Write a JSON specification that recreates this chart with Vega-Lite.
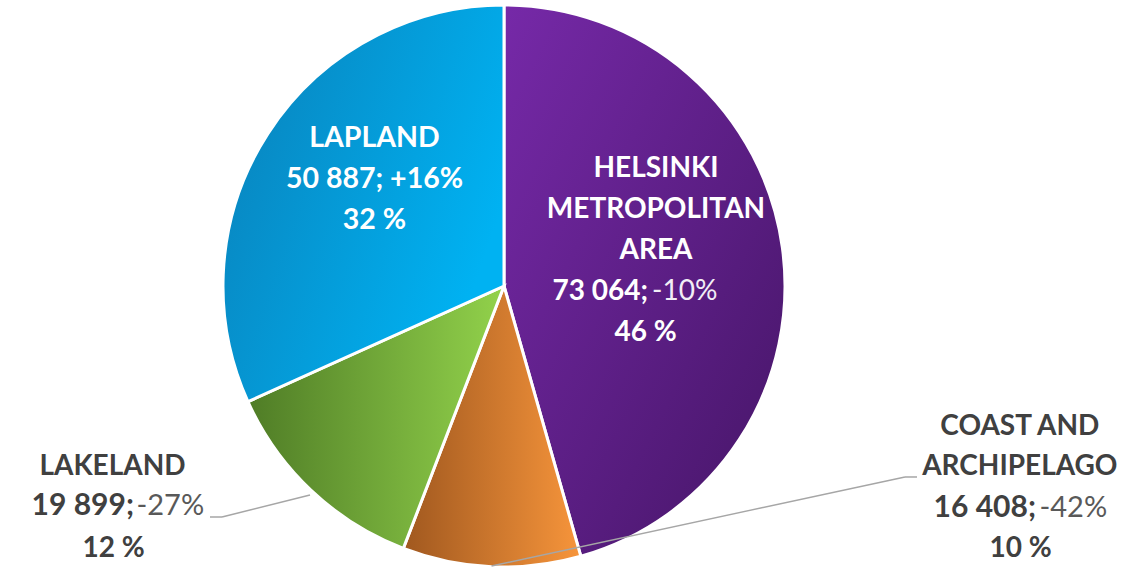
{
  "$schema": "https://vega.github.io/schema/vega-lite/v6.json",
  "width": 1008,
  "height": 562,
  "autosize": "none",
  "padding": {"left": 0, "top": 5, "right": 137, "bottom": 0},
  "background": "white",
  "config": {"view": {"stroke": null}},
  "data": {
    "values": [
      {"idx": 1, "region": "Helsinki Metropolitan Area", "visitors": 73064, "nameLabel": "HELSINKI\nMETROPOLITAN\nAREA", "valueLabel": "73 064;", "change": "-10%", "share": "46 %"},
      {"idx": 2, "region": "Coast and Archipelago", "visitors": 16408, "nameLabel": "COAST AND\nARCHIPELAGO", "valueLabel": "16 408;", "change": "-42%", "share": "10 %"},
      {"idx": 3, "region": "Lakeland", "visitors": 19899, "nameLabel": "LAKELAND", "valueLabel": "19 899;", "change": "-27%", "share": "12 %"},
      {"idx": 4, "region": "Lapland", "visitors": 50887, "nameLabel": "LAPLAND\n50 887; +16%\n32 %", "valueLabel": "50 887;", "change": "+16%", "share": "32 %"}
    ]
  },
  "layer": [
    {
      "mark": {"type": "arc", "outerRadius": 281, "stroke": "white", "strokeWidth": 3},
      "encoding": {
        "theta": {"field": "visitors", "type": "quantitative", "stack": true},
        "order": {"field": "idx", "type": "quantitative"},
        "fill": {
          "condition": [
            {"test": "datum.idx === 1", "value": {"gradient": "linear", "x1": 0, "y1": 0, "x2": 1, "y2": 1, "stops": [{"offset": 0, "color": "#7629a8"}, {"offset": 1, "color": "#451566"}]}},
            {"test": "datum.idx === 2", "value": {"gradient": "linear", "x1": 0, "y1": 0, "x2": 1, "y2": 0, "stops": [{"offset": 0, "color": "#a0581f"}, {"offset": 1, "color": "#f7953b"}]}},
            {"test": "datum.idx === 3", "value": {"gradient": "linear", "x1": 0, "y1": 0, "x2": 1, "y2": 0, "stops": [{"offset": 0, "color": "#4f7c26"}, {"offset": 1, "color": "#92d24b"}]}}
          ],
          "value": {"gradient": "linear", "x1": 0, "y1": 0, "x2": 1, "y2": 0.5, "stops": [{"offset": 0, "color": "#0a7fb8"}, {"offset": 1, "color": "#00b2f2"}]}
        }
      }
    },
    {
      "mark": {"type": "text", "radius": 156, "dx": -2.5, "dy": -87.5, "align": "center", "baseline": "alphabetic", "font": "Lato", "fontWeight": "bold", "fontSize": 28, "lineBreak": "\n", "lineHeight": 41, "color": "white"},
      "encoding": {
        "theta": {"field": "visitors", "type": "quantitative", "stack": true},
        "order": {"field": "idx", "type": "quantitative"},
        "text": {"condition": {"test": "datum.idx === 1", "field": "nameLabel", "type": "nominal"}, "value": ""}
      }
    },
    {
      "mark": {"type": "text", "radius": 156, "dx": -10.5, "dy": 35.5, "align": "right", "baseline": "alphabetic", "font": "Lato", "fontWeight": "bold", "fontSize": 28, "color": "white"},
      "encoding": {
        "theta": {"field": "visitors", "type": "quantitative", "stack": true},
        "order": {"field": "idx", "type": "quantitative"},
        "text": {"condition": {"test": "datum.idx === 1", "field": "valueLabel", "type": "nominal"}, "value": ""}
      }
    },
    {
      "mark": {"type": "text", "radius": 156, "dx": -6.5, "dy": 35.5, "align": "left", "baseline": "alphabetic", "font": "Lato", "fontWeight": "normal", "fontSize": 28, "color": "#f2eef6"},
      "encoding": {
        "theta": {"field": "visitors", "type": "quantitative", "stack": true},
        "order": {"field": "idx", "type": "quantitative"},
        "text": {"condition": {"test": "datum.idx === 1", "field": "change", "type": "nominal"}, "value": ""}
      }
    },
    {
      "mark": {"type": "text", "radius": 156, "dx": -13, "dy": 76.5, "align": "center", "baseline": "alphabetic", "font": "Lato", "fontWeight": "bold", "fontSize": 28, "color": "white"},
      "encoding": {
        "theta": {"field": "visitors", "type": "quantitative", "stack": true},
        "order": {"field": "idx", "type": "quantitative"},
        "text": {"condition": {"test": "datum.idx === 1", "field": "share", "type": "nominal"}, "value": ""}
      }
    },
    {
      "mark": {"type": "text", "radius": 160, "dx": 4.9, "dy": -52, "align": "center", "baseline": "alphabetic", "font": "Lato", "fontWeight": "bold", "fontSize": 28.5, "lineBreak": "\n", "lineHeight": 41, "color": "white"},
      "encoding": {
        "theta": {"field": "visitors", "type": "quantitative", "stack": true},
        "order": {"field": "idx", "type": "quantitative"},
        "text": {"condition": {"test": "datum.idx === 4", "field": "nameLabel", "type": "nominal"}, "value": ""}
      }
    },
    {
      "mark": {"type": "text", "radius": 300, "dx": -185.6, "dy": -29.2, "align": "center", "baseline": "alphabetic", "font": "Lato", "fontWeight": "bold", "fontSize": 28, "color": "#404040"},
      "encoding": {
        "theta": {"field": "visitors", "type": "quantitative", "stack": true},
        "order": {"field": "idx", "type": "quantitative"},
        "text": {"condition": {"test": "datum.idx === 3", "field": "nameLabel", "type": "nominal"}, "value": ""}
      }
    },
    {
      "mark": {"type": "text", "radius": 300, "dx": -164.1, "dy": 10.8, "align": "right", "baseline": "alphabetic", "font": "Lato", "fontWeight": "bold", "fontSize": 30, "color": "#404040"},
      "encoding": {
        "theta": {"field": "visitors", "type": "quantitative", "stack": true},
        "order": {"field": "idx", "type": "quantitative"},
        "text": {"condition": {"test": "datum.idx === 3", "field": "valueLabel", "type": "nominal"}, "value": ""}
      }
    },
    {
      "mark": {"type": "text", "radius": 300, "dx": -161.6, "dy": 10.8, "align": "left", "baseline": "alphabetic", "font": "Lato", "fontWeight": "normal", "fontSize": 29, "color": "#595959"},
      "encoding": {
        "theta": {"field": "visitors", "type": "quantitative", "stack": true},
        "order": {"field": "idx", "type": "quantitative"},
        "text": {"condition": {"test": "datum.idx === 3", "field": "change", "type": "nominal"}, "value": ""}
      }
    },
    {
      "mark": {"type": "text", "radius": 300, "dx": -184.6, "dy": 52.8, "align": "center", "baseline": "alphabetic", "font": "Lato", "fontWeight": "bold", "fontSize": 28, "color": "#404040"},
      "encoding": {
        "theta": {"field": "visitors", "type": "quantitative", "stack": true},
        "order": {"field": "idx", "type": "quantitative"},
        "text": {"condition": {"test": "datum.idx === 3", "field": "share", "type": "nominal"}, "value": ""}
      }
    },
    {
      "mark": {"type": "text", "radius": 300, "dx": 529.2, "dy": -150.7, "align": "center", "baseline": "alphabetic", "font": "Lato", "fontWeight": "bold", "fontSize": 28, "lineBreak": "\n", "lineHeight": 40, "color": "#404040"},
      "encoding": {
        "theta": {"field": "visitors", "type": "quantitative", "stack": true},
        "order": {"field": "idx", "type": "quantitative"},
        "text": {"condition": {"test": "datum.idx === 2", "field": "nameLabel", "type": "nominal"}, "value": ""}
      }
    },
    {
      "mark": {"type": "text", "radius": 300, "dx": 545.4, "dy": -68.7, "align": "right", "baseline": "alphabetic", "font": "Lato", "fontWeight": "bold", "fontSize": 30, "color": "#404040"},
      "encoding": {
        "theta": {"field": "visitors", "type": "quantitative", "stack": true},
        "order": {"field": "idx", "type": "quantitative"},
        "text": {"condition": {"test": "datum.idx === 2", "field": "valueLabel", "type": "nominal"}, "value": ""}
      }
    },
    {
      "mark": {"type": "text", "radius": 300, "dx": 548.9, "dy": -68.7, "align": "left", "baseline": "alphabetic", "font": "Lato", "fontWeight": "normal", "fontSize": 29, "color": "#595959"},
      "encoding": {
        "theta": {"field": "visitors", "type": "quantitative", "stack": true},
        "order": {"field": "idx", "type": "quantitative"},
        "text": {"condition": {"test": "datum.idx === 2", "field": "change", "type": "nominal"}, "value": ""}
      }
    },
    {
      "mark": {"type": "text", "radius": 300, "dx": 529.9, "dy": -28.7, "align": "center", "baseline": "alphabetic", "font": "Lato", "fontWeight": "bold", "fontSize": 28, "color": "#404040"},
      "encoding": {
        "theta": {"field": "visitors", "type": "quantitative", "stack": true},
        "order": {"field": "idx", "type": "quantitative"},
        "text": {"condition": {"test": "datum.idx === 2", "field": "share", "type": "nominal"}, "value": ""}
      }
    },
    {
      "data": {"values": [{"leader": "Lakeland"}]},
      "mark": {"type": "rule", "color": "#a6a6a6", "strokeWidth": 1.5},
      "encoding": {
        "x": {"datum": -1.05, "type": "quantitative", "scale": {"domain": [-1.8, 1.8], "nice": false, "zero": false}, "axis": null},
        "x2": {"datum": -1.0071},
        "y": {"datum": -0.825, "type": "quantitative", "scale": {"domain": [-1.00357, 1.00357], "nice": false, "zero": false}, "axis": null},
        "y2": {"datum": -0.825}
      }
    },
    {
      "data": {"values": [{"leader": "Lakeland"}]},
      "mark": {"type": "rule", "color": "#a6a6a6", "strokeWidth": 1.5},
      "encoding": {
        "x": {"datum": -1.0071, "type": "quantitative", "scale": {"domain": [-1.8, 1.8], "nice": false, "zero": false}, "axis": null},
        "x2": {"datum": -0.6929},
        "y": {"datum": -0.825, "type": "quantitative", "scale": {"domain": [-1.00357, 1.00357], "nice": false, "zero": false}, "axis": null},
        "y2": {"datum": -0.7464}
      }
    },
    {
      "data": {"values": [{"leader": "Coast and Archipelago"}]},
      "mark": {"type": "rule", "color": "#a6a6a6", "strokeWidth": 1.5},
      "encoding": {
        "x": {"datum": 1.475, "type": "quantitative", "scale": {"domain": [-1.8, 1.8], "nice": false, "zero": false}, "axis": null},
        "x2": {"datum": 1.4321},
        "y": {"datum": -0.6821, "type": "quantitative", "scale": {"domain": [-1.00357, 1.00357], "nice": false, "zero": false}, "axis": null},
        "y2": {"datum": -0.6821}
      }
    },
    {
      "data": {"values": [{"leader": "Coast and Archipelago"}]},
      "mark": {"type": "rule", "color": "#a6a6a6", "strokeWidth": 1.5},
      "encoding": {
        "x": {"datum": 1.4321, "type": "quantitative", "scale": {"domain": [-1.8, 1.8], "nice": false, "zero": false}, "axis": null},
        "x2": {"datum": -0.0446},
        "y": {"datum": -0.6821, "type": "quantitative", "scale": {"domain": [-1.00357, 1.00357], "nice": false, "zero": false}, "axis": null},
        "y2": {"datum": -1.0}
      }
    }
  ]
}
